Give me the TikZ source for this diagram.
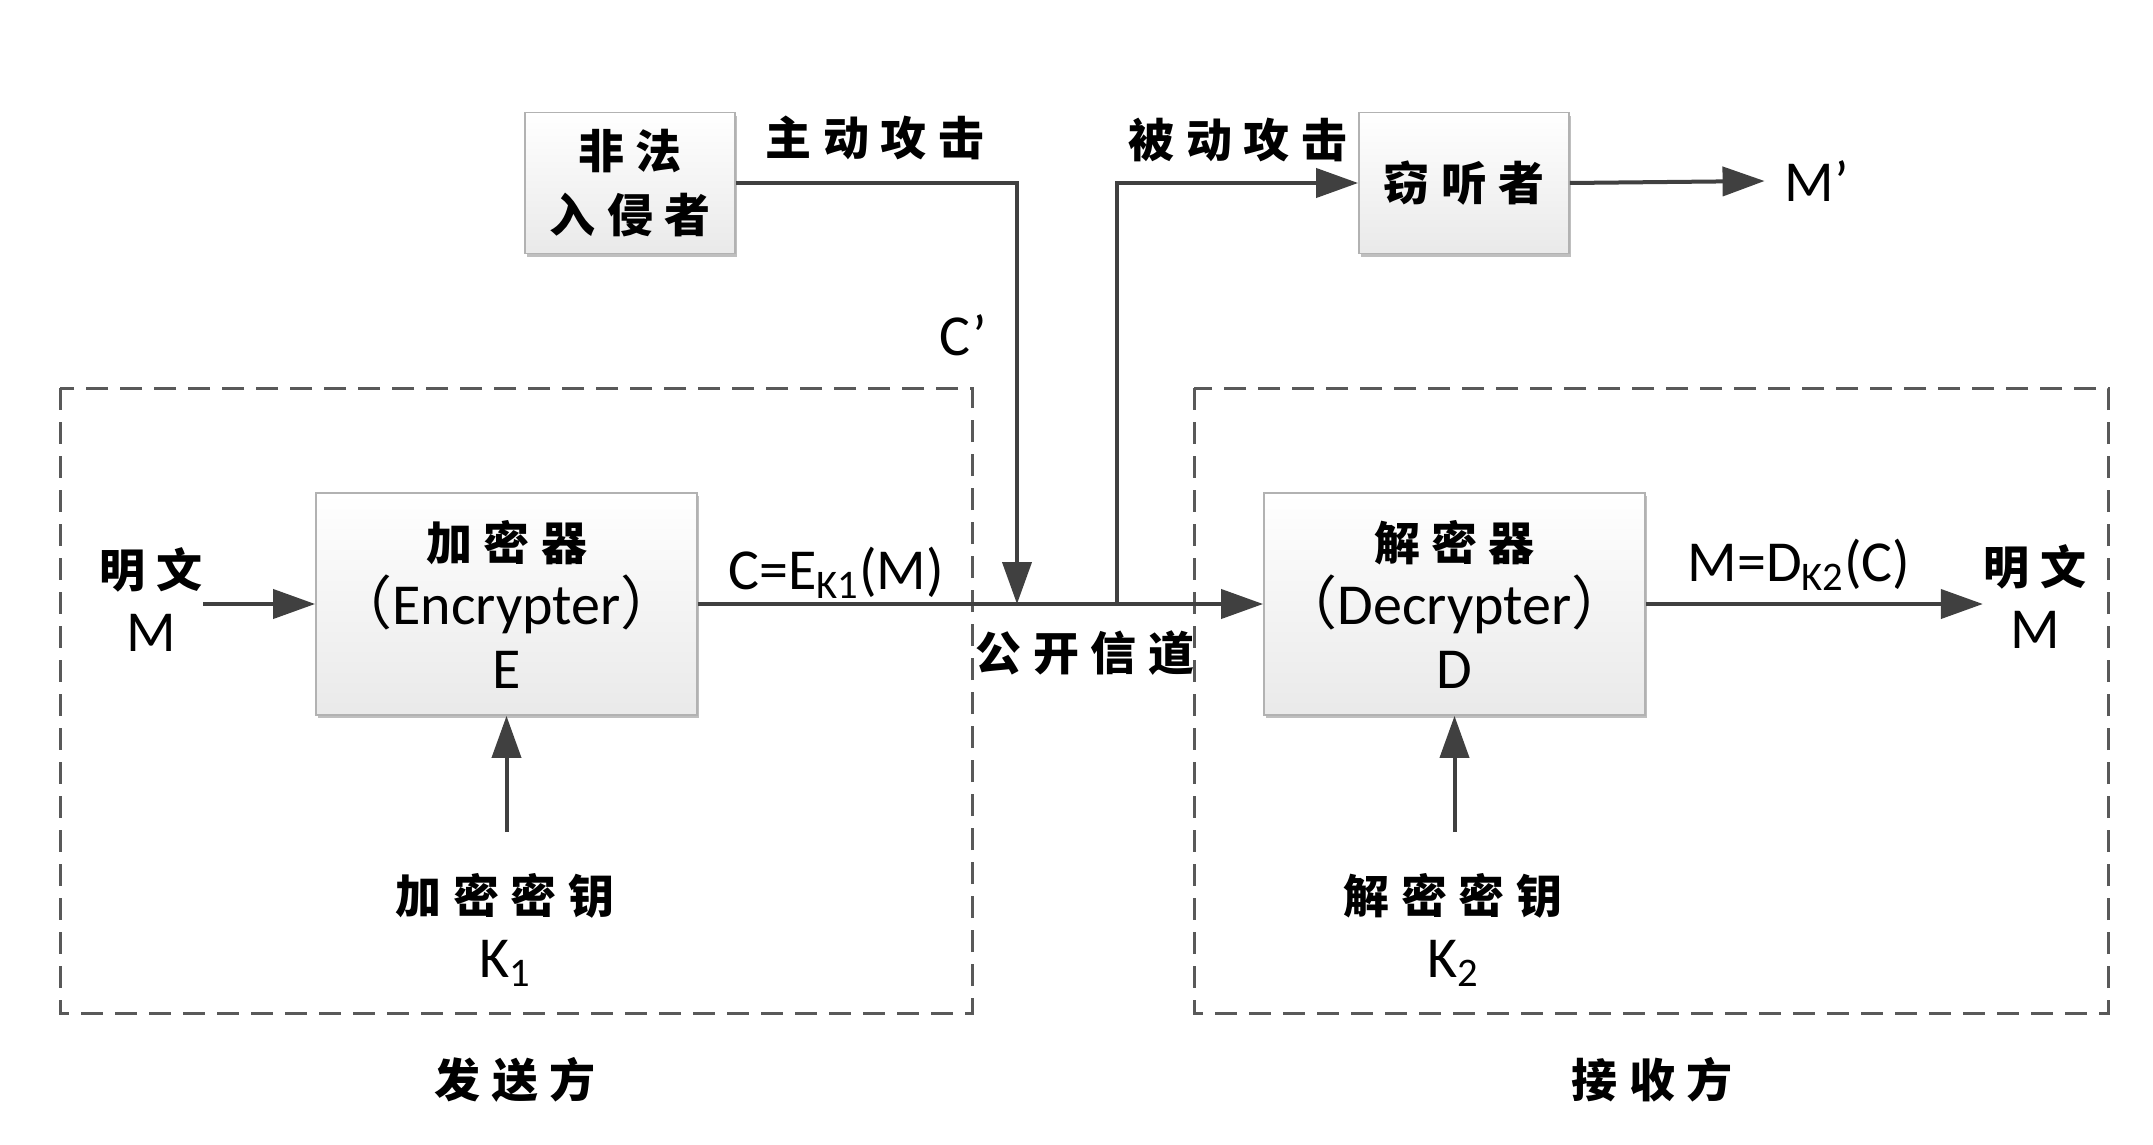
\documentclass[tikz,border=0pt]{standalone}
\usepackage{fontspec}
\setmainfont{Carlito}
\newfontfamily\cjk{Noto Sans CJK SC}[LetterSpace=25]
\usetikzlibrary{arrows.meta,shadows}
\definecolor{lineC}{RGB}{64,64,64}
\newcommand{\zhf}{\cjk\bfseries\fontsize{23}{32}\selectfont}
\begin{document}
\begin{tikzpicture}[x=0.5pt,y=-0.5pt,
  lat/.style={font=\fontsize{29}{32}\selectfont, inner sep=0pt, align=center},
  zh/.style={font=\zhf, inner sep=0pt, align=center},
  box/.style={draw=gray!60, line width=0.9pt, top color=white, bottom color=gray!17,
    drop shadow={shadow xshift=0.8pt, shadow yshift=-1.6pt, opacity=0.25, fill=black},
    align=center, inner sep=0pt},
  arr/.style={draw=lineC, line width=2pt, -{Triangle[length=21pt,width=14.5pt]}},
  dbox/.style={draw=black!65, line width=1.5pt, dash pattern=on 11pt off 6pt}
]
\useasboundingbox[fill=white] (0,0) rectangle (2153,1145);

% dashed groups
\draw[dbox] (60,388) rectangle (972,1013);
\draw[dbox] (1194,388) rectangle (2108,1013);

% boxes
\node[box, zh, minimum width=105pt, minimum height=70.5pt] (intr) at (630,183) {非法\\入侵者};
\node[box, zh, minimum width=105pt, minimum height=70.5pt] (eav) at (1464,183) {窃听者};
\node[box, lat, minimum width=190.5pt, minimum height=111pt] (enc) at (506.5,604)
  {{\zhf 加密器}\\{\cjk （}Encrypter{\cjk ）}\\E};
\node[box, lat, minimum width=190.5pt, minimum height=111pt] (dec) at (1454.5,604)
  {{\zhf 解密器}\\{\cjk （}Decrypter{\cjk ）}\\D};

% labels
\node[zh] (act) at (875,138) {主动攻击};
\node[zh] (pas) at (1238,140) {被动攻击};
\node[lat] (Cp) at (963,335) {C’};
\node[lat] (Mp) at (1817,181) {M’};
\node[lat] (ceq) at (836,573) {C=E\textsubscript{K1}(M)};
\node[lat] (meq) at (1799,565) {M=D\textsubscript{K2}(C)};
\node[zh] (chan) at (1085,653) {公开信道};
\node[lat] (ptL) at (151,600) {{\zhf 明文}\\M};
\node[lat] (ptR) at (2035,597) {{\zhf 明文}\\M};
\node[lat] (k1) at (505,930) {{\zhf 加密密钥}\\K\textsubscript{1}};
\node[lat] (k2) at (1453,930) {{\zhf 解密密钥}\\K\textsubscript{2}};
\node[zh] (snd) at (515,1080) {发送方};
\node[zh] (rcv) at (1652,1080) {接收方};

% connectors
\coordinate (jA) at (1017,604);
\coordinate (jP) at (1117,604);
\coordinate (k1top) at (505,832);
\coordinate (k2top) at (1453,832);
\draw[arr] (enc) -- (dec);
\draw[arr] (intr.east) -| (jA);
\draw[arr] (jP) |- (eav.west);
\draw[arr] (eav.east) -- ([xshift=-10pt]Mp.west);
\draw[arr] (ptL.east |- enc.west) -- (enc.west);
\draw[arr] (dec.east) -- (ptR.west |- dec.east);
\draw[arr] (enc.south |- k1top) -- (enc.south);
\draw[arr] (dec.south |- k2top) -- (dec.south);
\end{tikzpicture}
\end{document}
